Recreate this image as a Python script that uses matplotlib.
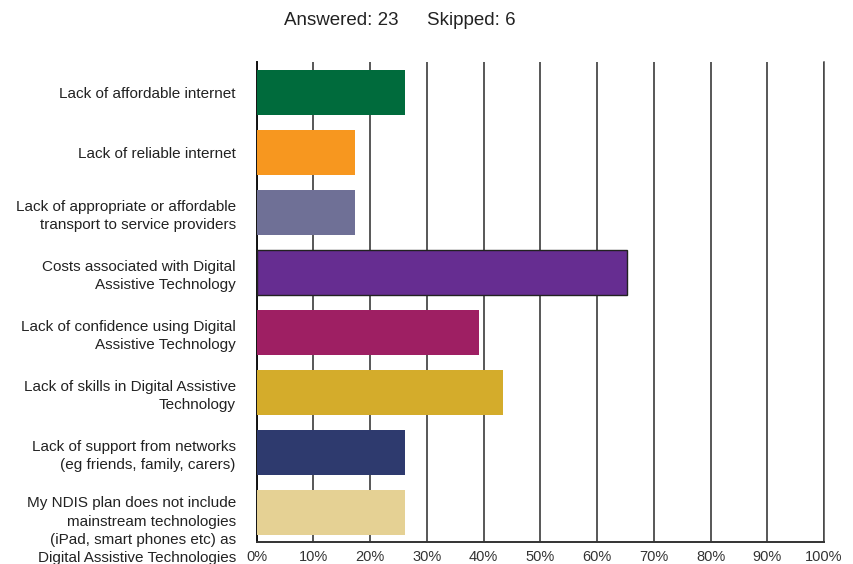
import matplotlib
matplotlib.use("Agg")
import matplotlib.pyplot as plt
from matplotlib.transforms import ScaledTranslation

categories = [
    "Lack of affordable internet",
    "Lack of reliable internet",
    "Lack of appropriate or affordable\ntransport to service providers",
    "Costs associated with Digital\nAssistive Technology",
    "Lack of confidence using Digital\nAssistive Technology",
    "Lack of skills in Digital Assistive\nTechnology",
    "Lack of support from networks\n(eg friends, family, carers)",
    "My NDIS plan does not include\nmainstream technologies\n(iPad, smart phones etc) as\nDigital Assistive Technologies",
]
values = [26.09, 17.39, 17.39, 65.22, 39.13, 43.48, 26.09, 26.09]
colors = ["#006b3c", "#f7971f", "#6f7096", "#662d91", "#9e1f63",
          "#d4ac2b", "#2e3a6e", "#e5d194"]
tick_values = list(range(0, 101, 10))
tick_labels = [f"{t}%" for t in tick_values]

plt.rcParams["font.family"] = ["Liberation Sans", "DejaVu Sans"]

fig = plt.figure(figsize=(8.54, 5.64), dpi=100)
ax = fig.add_axes([0.3005, 0.039, 0.6645, 0.851])

ypos = list(range(len(categories)))
bars = ax.barh(ypos, values, height=0.75, color=colors, linewidth=0, zorder=3)
# the highlighted bar carries a thin dark outline
bars[3].set_edgecolor("#222222")
bars[3].set_linewidth(1.0)

ax.set_ylim(len(categories) - 0.5, -0.5)
ax.set_xlim(0, 100)

ax.set_xticks(tick_values)
ax.set_xticklabels(tick_labels, fontsize=10.5, color="#333333")
ax.set_yticks(ypos)
ax.set_yticklabels(categories, fontsize=11, color="#222222", linespacing=1.4)
ax.tick_params(axis="both", length=0)
ax.tick_params(axis="x", pad=6)
ax.tick_params(axis="y", pad=15)

# the long last label sits a little lower than its bar
last = ax.get_yticklabels()[-1]
last.set_transform(last.get_transform() + ScaledTranslation(0, -0.15, fig.dpi_scale_trans))

ax.grid(axis="x", color="#2a2a2a", linewidth=1.1, zorder=0)
ax.spines["top"].set_visible(False)
ax.spines["right"].set_color("#444444")
ax.spines["right"].set_linewidth(1.1)
ax.spines["left"].set_color("#111111")
ax.spines["left"].set_linewidth(1.4)
ax.spines["bottom"].set_color("#333333")
ax.spines["bottom"].set_linewidth(1.4)

fig.text(0.4663, 0.963, "Answered: 23", ha="right", va="center",
         fontsize=13.5, color="#222222")
fig.text(0.5, 0.963, "Skipped: 6", ha="left", va="center",
         fontsize=13.5, color="#222222")

fig.savefig("out.png", dpi=100)
